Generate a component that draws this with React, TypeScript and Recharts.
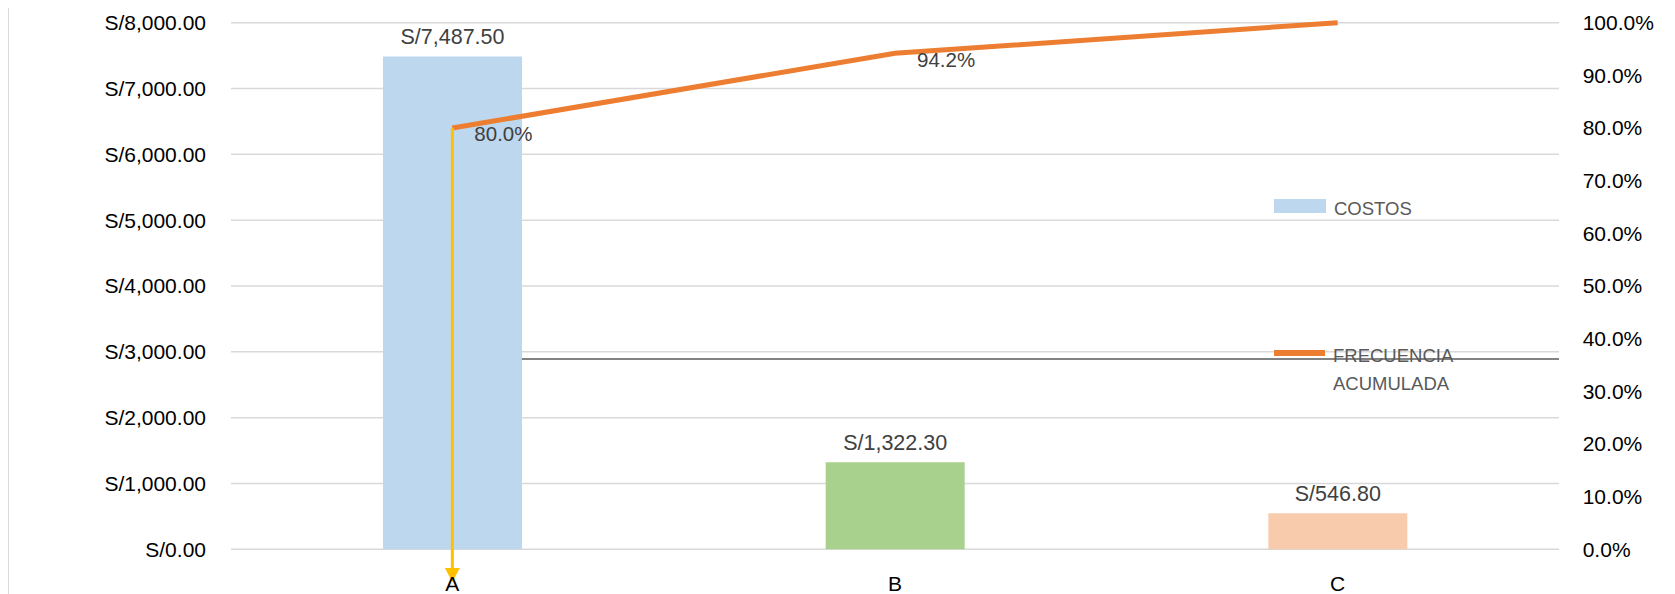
import React from 'react';
import {
  ComposedChart, Bar, Line, XAxis, YAxis, CartesianGrid, Cell, LabelList, ReferenceLine, Legend,
} from 'recharts';

const categories = ['A', 'B', 'C'];
const costs = [7487.5, 1322.3, 546.8];
const cumulative = [0.8, 0.942, 1.0];
const barColors = ['#BDD7EE', '#A9D18E', '#F8CBAD'];
const lineLabelShown = [true, true, false];
const leftTicks = [0, 1000, 2000, 3000, 4000, 5000, 6000, 7000, 8000];
const rightTicks = [0, 0.1, 0.2, 0.3, 0.4, 0.5, 0.6, 0.7, 0.8, 0.9, 1.0];
const legendItems = ['COSTOS', 'FRECUENCIA ACUMULADA'];

// annotations (data coordinates)
const arrowCategory = 'A';
const arrowFrom = 0.8;
const arrowTo = -0.062;
const hLineValue = 2891;
const hLineFromCategory = 'A';
const hLineToCategory = 'C';

const BAR_SIZE = 139;

const data = categories.map((c, i) => ({ cat: c, costos: costs[i], frecuencia: cumulative[i] }));

const FONT = '"Liberation Sans", Arial, sans-serif';

const fmtMoney = (v: number) =>
  'S/' + Number(v).toLocaleString('en-US', { minimumFractionDigits: 2, maximumFractionDigits: 2 });
const fmtPct = (v: number) => (Number(v) * 100).toFixed(1) + '%';

const ArrowShape = (props: any) => {
  const { x1, y1, x2, y2 } = props;
  const head = 14;
  return (
    <g>
      <line x1={x1} y1={y1} x2={x2} y2={y2 - head} stroke="#FFC000" strokeWidth={3} />
      <polygon points={`${x2 - 7.5},${y2 - head} ${x2 + 7.5},${y2 - head} ${x2},${y2}`} fill="#FFC000" />
    </g>
  );
};

// horizontal line from the right edge of bar A to the right edge of the plot
const HLineShape = (props: any) => {
  const { x1, y1, x2, y2 } = props;
  const band = (x2 - x1) / 2; // two category steps between A and C
  const start = x1 + BAR_SIZE / 2;
  const end = x2 + band / 2;
  return <line x1={start} y1={y1} x2={end} y2={y2} stroke="#595959" strokeWidth={1.5} />;
};

const LineLabel = (props: any) => {
  const { x, y, index, value } = props;
  if (!lineLabelShown[index]) return null;
  return (
    <text x={x + 22} y={y + 6} dy="0.355em" fill="#404040" fontSize={20.5} fontFamily={FONT} textAnchor="start">
      {fmtPct(value)}
    </text>
  );
};

const LegendContent = () => (
  <div style={{ position: 'relative', width: 220, height: 220, fontFamily: FONT, color: '#595959', fontSize: 18.5 }}>
    <div style={{ position: 'absolute', left: 0, top: 2, width: 52, height: 14, background: '#BDD7EE' }} />
    <div style={{ position: 'absolute', left: 60, top: 0.5, lineHeight: '22px', whiteSpace: 'nowrap' }}>{legendItems[0]}</div>
    <div style={{ position: 'absolute', left: 0, top: 153, width: 51, height: 6, background: '#ED7D31' }} />
    <div style={{ position: 'absolute', left: 59, top: 145, lineHeight: '27.5px', width: 160 }}>
      {legendItems[1].split(' ').map((w, i) => (
        <div key={i}>{w}</div>
      ))}
    </div>
  </div>
);

const tickStyle = { fill: '#000', fontSize: 21, fontFamily: FONT };

export default function App() {
  return (
    <div style={{ marginTop: -1, width: 1667, height: 587, position: 'relative', fontFamily: FONT }}>
      <div
        style={{
          position: 'absolute', left: 0, top: 0, right: 0, bottom: 0,
          borderTop: '1.5px solid #d9d9d9', borderLeft: '1.5px solid #d9d9d9', pointerEvents: 'none',
        }}
      />
      <ComposedChart width={1667} height={587} data={data} margin={{ top: 15.7, right: 0, left: 0, bottom: 0 }}>
        <CartesianGrid vertical={false} stroke="#d9d9d9" strokeWidth={1.5} yAxisId="left" />
        <XAxis
          dataKey="cat"
          tickLine={false}
          axisLine={false}
          tickSize={0}
          tickMargin={27}
          height={44.7}
          tick={tickStyle}
        />
        <YAxis
          yAxisId="left"
          domain={[0, 8000]}
          ticks={leftTicks}
          width={223}
          tickSize={0}
          tickMargin={25}
          axisLine={false}
          tickLine={false}
          tickFormatter={fmtMoney}
          tick={tickStyle}
        />
        <YAxis
          yAxisId="right"
          orientation="right"
          domain={[0, 1]}
          ticks={rightTicks}
          width={116}
          tickSize={0}
          tickMargin={23.7}
          axisLine={false}
          tickLine={false}
          tickFormatter={fmtPct}
          tick={tickStyle}
        />
        <ReferenceLine
          yAxisId="left"
          segment={[{ x: hLineFromCategory, y: hLineValue }, { x: hLineToCategory, y: hLineValue }]}
          ifOverflow="visible"
          shape={HLineShape}
        />
        <Bar dataKey="costos" yAxisId="left" barSize={BAR_SIZE} isAnimationActive={false}>
          {data.map((d, i) => (
            <Cell key={d.cat} fill={barColors[i]} />
          ))}
          <LabelList
            dataKey="costos"
            position="top"
            offset={12}
            formatter={(v: any) => fmtMoney(v)}
            fill="#404040"
            fontSize={21.5}
            fontFamily={FONT}
          />
        </Bar>
        <Line
          dataKey="frecuencia"
          yAxisId="right"
          type="linear"
          stroke="#ED7D31"
          strokeWidth={5}
          dot={false}
          activeDot={false}
          isAnimationActive={false}
        >
          <LabelList dataKey="frecuencia" content={LineLabel} />
        </Line>
        <ReferenceLine
          yAxisId="right"
          segment={[{ x: arrowCategory, y: arrowFrom }, { x: arrowCategory, y: arrowTo }]}
          ifOverflow="visible"
          shape={ArrowShape}
        />
        <Legend
          layout="horizontal"
          verticalAlign="middle"
          align="center"
          content={LegendContent}
          wrapperStyle={{ position: 'absolute', left: 1266, top: 190, width: 220, height: 220 }}
        />
      </ComposedChart>
    </div>
  );
}
